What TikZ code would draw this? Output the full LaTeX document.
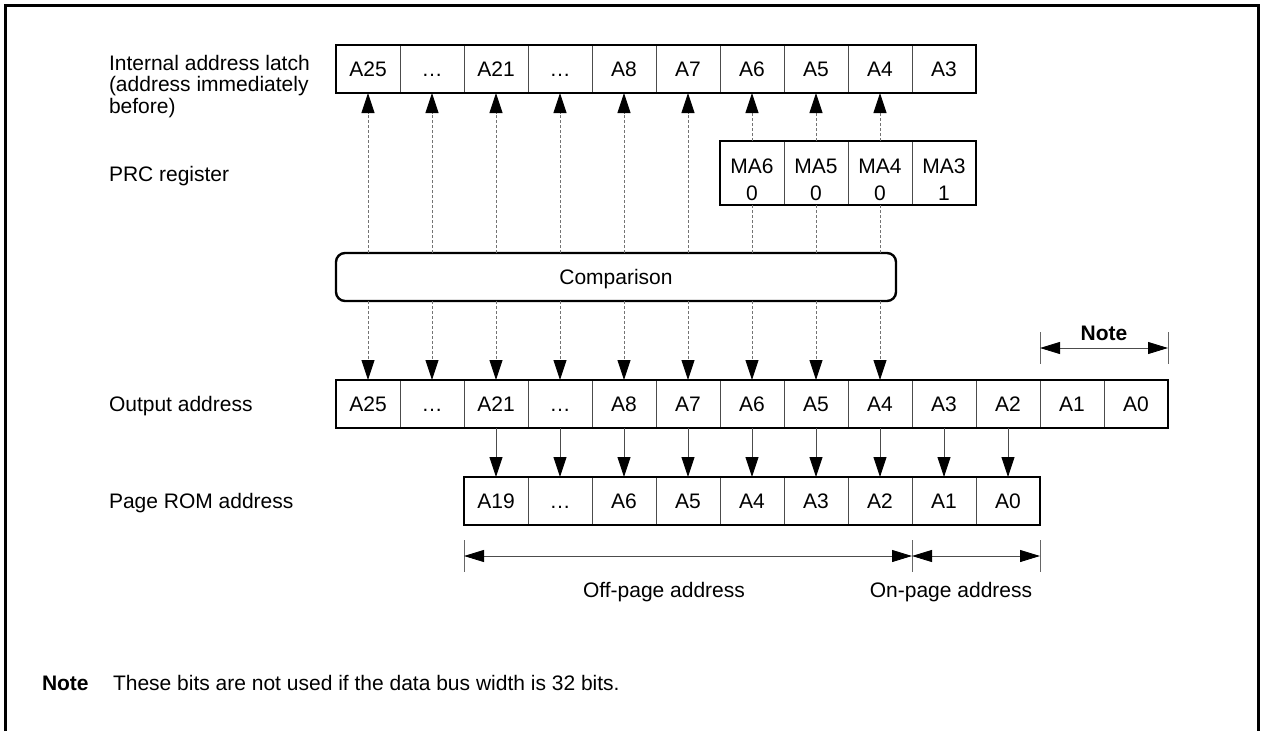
\documentclass[tikz,border=0pt]{standalone}
\usepackage{fontspec}
\setmainfont{Liberation Sans}
\usetikzlibrary{arrows.meta}
\begin{document}
\begin{tikzpicture}[x=1pt,y=-1pt,
  every node/.style={font=\fontsize{21}{25}\selectfont, inner sep=0pt, outer sep=0pt},
  cell/.style={draw=black!70, line width=0.9pt, minimum width=64pt, minimum height=48pt,
               text height=15pt, text depth=0pt},
  tallcell/.style={cell, minimum height=64pt},
  celltext/.style={text height=15pt, text depth=0pt},
  rowframe/.style={draw=black, line width=2.6pt},
  cmpbox/.style={draw=black, line width=2.4pt, rounded corners=9pt, minimum width=560pt,
                 minimum height=48pt, text height=15pt, text depth=0pt},
  tipdown/.style={-{Triangle[length=20pt,width=13pt,color=black]}},
  dashline/.style={draw=black!55, line width=0.9pt, dash pattern=on 3pt off 2pt},
  dasharr/.style={dashline, tipdown},
  solarr/.style={draw=black!70, line width=0.9pt, tipdown},
  dimarr/.style={draw=black!70, line width=0.9pt,
                 {Triangle[length=20pt,width=12pt,color=black]}-{Triangle[length=20pt,width=12pt,color=black]}},
  dimtick/.style={draw=black!60, line width=0.8pt},
  lbl/.style={anchor=base west},
]
\useasboundingbox (0,0) rectangle (1261,731);

% open frame around the figure
\draw[line width=3pt] (5,731) -- (5,5) -- (1258.5,5) -- (1258.5,731);

% row labels
\node[lbl] (lab1a) at (109,70) {Internal address latch};
\node[lbl] (lab1b) at (109,91.5) {(address immediately};
\node[lbl] (lab1c) at (109,113) {before)};
\node[lbl] (lab2) at (109,181) {PRC register};
\node[lbl] (lab3) at (109,411.5) {Output address};
\node[lbl] (lab4) at (109,508.5) {Page ROM address};

% internal address latch
\foreach \t [count=\i from 0] in {A25,…,A21,…,A8,A7,A6,A5,A4,A3}
  \node[cell] (l\i) at ({368+64*\i},69) {\t};
\draw[rowframe] (l0.north west) rectangle (l9.south east);

% PRC register
\foreach \t/\v [count=\i from 6] in {MA6/0,MA5/0,MA4/0,MA3/1} {
  \node[tallcell] (p\i) at ({368+64*\i},173) {};
  \node[celltext] (p\i a) at ({368+64*\i},166) {\t};
  \node[celltext] (p\i b) at ({368+64*\i},193) {\v};
}
\draw[rowframe] (p6.north west) rectangle (p9.south east);

% comparison block
\node[cmpbox] (cmp) at (616,277) {Comparison};

% output address
\foreach \t [count=\i from 0] in {A25,…,A21,…,A8,A7,A6,A5,A4,A3,A2,A1,A0}
  \node[cell] (o\i) at ({368+64*\i},404) {\t};
\draw[rowframe] (o0.north west) rectangle (o12.south east);

% page ROM address
\foreach \t [count=\i from 0] in {A19,…,A6,A5,A4,A3,A2,A1,A0}
  \node[cell] (r\i) at ({496+64*\i},501) {\t};
\draw[rowframe] (r0.north west) rectangle (r8.south east);

% latch <- comparison
\foreach \i in {0,...,5}
  \draw[dasharr] (l\i |- cmp.north) -- (l\i.south);
% latch <- PRC register, PRC register -- comparison
\foreach \i in {6,7,8} {
  \draw[dashline] (l\i |- cmp.north) -- (p\i.south);
  \draw[dasharr] (p\i.north) -- (l\i.south);
}
% comparison -> output address
\foreach \i in {0,...,8}
  \draw[dasharr] (o\i |- cmp.south) -- (o\i.north);
% output address -> page ROM address
\foreach \i [evaluate=\i as \j using int(\i+2)] in {0,...,8}
  \draw[solarr] (o\j.south) -- (r\i.north);

% width of the unused bits
\coordinate (n0) at (o11.west |- 0,348);
\coordinate (n1) at (o12.east |- 0,348);
\draw[dimtick] ([yshift=16pt]n0) -- ([yshift=-16pt]n0);
\draw[dimtick] ([yshift=16pt]n1) -- ([yshift=-16pt]n1);
\draw[dimarr] (n0) -- (n1);
\node[anchor=base, font=\fontsize{21}{25}\selectfont\bfseries] (notehead) at (1104,340.5) {Note};

% off-page / on-page ranges
\coordinate (d0) at (r0.west |- 0,556);
\coordinate (d1) at (r6.east |- 0,556);
\coordinate (d2) at (r8.east |- 0,556);
\foreach \c in {d0,d1,d2}
  \draw[dimtick] ([yshift=16pt]\c) -- ([yshift=-16pt]\c);
\draw[dimarr] (d0) -- (d1);
\draw[dimarr] (d1) -- (d2);
\node[anchor=base] (offpg) at (664,597.5) {Off-page address};
\node[anchor=base] (onpg) at (951,597.5) {On-page address};

% footnote
\node[lbl, font=\fontsize{21}{25}\selectfont\bfseries] (fnhead) at (42,690.5) {Note};
\node[lbl] (fntext) at (113,690.5) {These bits are not used if the data bus width is 32 bits.};
\end{tikzpicture}
\end{document}
